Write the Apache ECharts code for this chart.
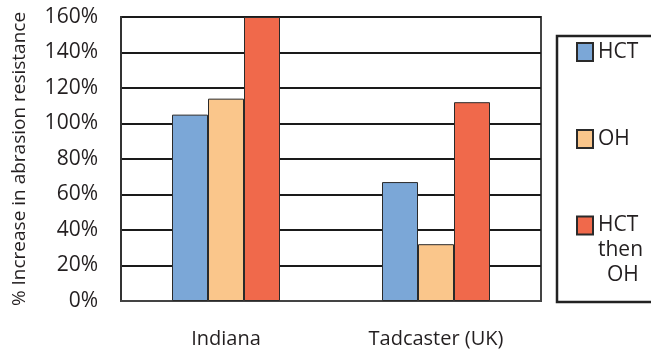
<!DOCTYPE html>
<html>
<head>
<meta charset="utf-8">
<script src="https://cdn.jsdelivr.net/npm/echarts@6/dist/echarts.min.js"></script>
<style>
html,body{margin:0;padding:0;background:#fff;}
#chart{width:651px;height:354px;}
</style>
</head>
<body>
<div id="chart"></div>
<script>
const categories = ['Indiana', 'Tadcaster (UK)'];
const seriesNames = ['HCT', 'OH', 'HCT then OH'];
const hctValues = [105, 67];
const ohValues = [114, 32];
const hctThenOhValues = [160, 112];
const yTicks = { min: 0, max: 160, interval: 20 };
const colors = ['#7ba7d7', '#fac68b', '#f0694b'];

const FONT = 'Open Sans';
const TXT = '#231f20';
const chart = echarts.init(document.getElementById('chart'), null, { renderer: 'canvas' });

const barBase = {
  type: 'bar',
  barWidth: 36,
  barGap: '0%',
  itemStyle: { borderColor: '#2a2a2a', borderWidth: 1 }
};

const legendBase = {
  orient: 'vertical',
  left: 576,
  padding: 0,
  icon: 'rect',
  itemWidth: 16,
  itemHeight: 18,
  textStyle: { fontFamily: FONT, fontSize: 21, color: TXT, lineHeight: 25 }
};

chart.setOption({
  animation: false,
  color: colors,
  grid: { left: 121, right: 110, top: 17, bottom: 53, show: true, borderColor: '#444', borderWidth: 2, backgroundColor: 'transparent' },
  graphic: [{
    type: 'rect',
    shape: { x: 557, y: 36, width: 120, height: 266 },
    style: { fill: 'none', stroke: '#222', lineWidth: 2.5 }
  }],
  legend: [
    Object.assign({}, legendBase, { top: 39.5, data: [seriesNames[0]] }),
    Object.assign({}, legendBase, { top: 126.5, data: [seriesNames[1]] }),
    Object.assign({}, legendBase, {
      top: 163,
      data: [seriesNames[2]],
      formatter: function () { return '{a|HCT}\n{a|then}\n{b|OH}'; },
      textStyle: {
        fontFamily: FONT, fontSize: 21, color: TXT, lineHeight: 25,
        padding: [50, 0, 0, 0],
        rich: {
          a: { fontFamily: FONT, fontSize: 21, color: TXT, lineHeight: 25 },
          b: { fontFamily: FONT, fontSize: 21, color: TXT, lineHeight: 25, padding: [0, 0, 0, 9] }
        }
      }
    })
  ],
  xAxis: {
    type: 'category',
    data: categories,
    axisTick: { show: false },
    axisLine: { lineStyle: { color: '#444', width: 2 } },
    axisLabel: { fontFamily: FONT, fontSize: 20, color: TXT, margin: 28 }
  },
  yAxis: {
    type: 'value',
    min: yTicks.min, max: yTicks.max, interval: yTicks.interval,
    name: '% Increase in abrasion resistance',
    nameLocation: 'middle',
    nameGap: 92,
    nameTextStyle: { fontFamily: FONT, fontSize: 19, color: TXT },
    axisLine: { show: true, lineStyle: { color: '#333', width: 2 } },
    axisTick: { show: false },
    axisLabel: { fontFamily: FONT, fontSize: 21, color: TXT, margin: 23, formatter: '{value}%' },
    splitLine: { lineStyle: { color: '#1a1a1a', width: 2 } }
  },
  series: [
    Object.assign({}, barBase, { name: seriesNames[0], data: hctValues }),
    Object.assign({}, barBase, { name: seriesNames[1], data: ohValues }),
    Object.assign({}, barBase, { name: seriesNames[2], data: hctThenOhValues })
  ]
});
</script>
</body>
</html>
